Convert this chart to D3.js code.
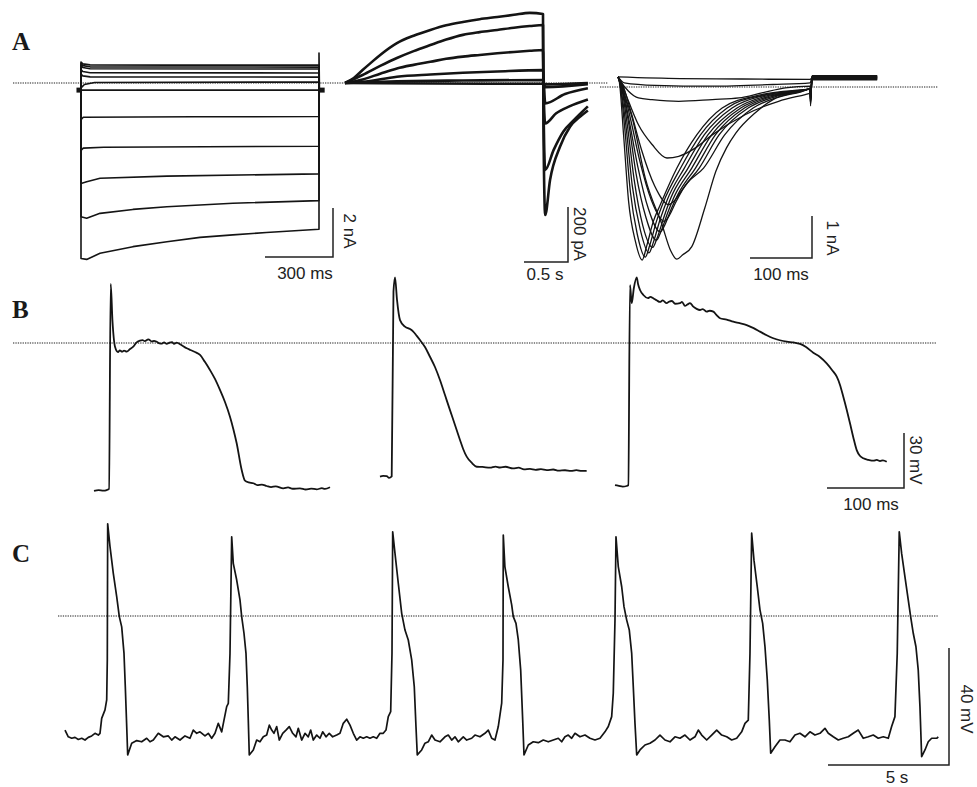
<!DOCTYPE html>
<html><head><meta charset="utf-8">
<script src="https://cdn.jsdelivr.net/npm/d3@7"></script>
<style>body{margin:0;background:#fff}svg{display:block}</style>
</head><body>
<svg id="c" width="977" height="787"></svg>
<script>
// ---------------- DATA ----------------
// Panel A left: K+ currents, [time ms, current nA]
const aLeftTraces = [
  [[-13,-0.29],[0,-0.29],[0,0.86],[8,0.78],[40,0.74],[400,0.73],[1050,0.73],[1051,-0.29],[1065,-0.29]],
  [[-13,-0.29],[0,-0.29],[0,0.8],[8,0.71],[40,0.66],[1050,0.65],[1051,-0.29],[1065,-0.29]],
  [[-13,-0.29],[0,-0.29],[0,0.72],[8,0.63],[40,0.58],[1050,0.57],[1051,-0.29],[1065,-0.29]],
  [[-13,-0.29],[0,-0.29],[0,0.55],[8,0.47],[40,0.42],[1050,0.41],[1051,-0.29],[1065,-0.29]],
  [[-13,-0.29],[0,-0.29],[0,0.36],[8,0.29],[40,0.25],[1050,0.24],[1051,-0.29],[1065,-0.29]],
  [[-13,-0.29],[0,-0.29],[0,-0.2],[15,-0.06],[60,0.02],[1050,0.04],[1051,-0.29],[1065,-0.29]],
  [[-13,-0.29],[1065,-0.29]],
  [[-13,-0.29],[0,-0.29],[0,-1.5],[10,-1.4],[500,-1.38],[1050,-1.37],[1051,-0.29],[1065,-0.29]],
  [[-13,-0.29],[0,-0.29],[0,-2.75],[10,-2.66],[100,-2.62],[1050,-2.58],[1051,-0.29],[1065,-0.29]],
  [[-13,-0.29],[0,-0.29],[0,-4.1],[25,-4.03],[84,-3.89],[379,-3.8],[1050,-3.71],[1051,-0.29],[1065,-0.29]],
  [[-13,-0.29],[0,-0.29],[0,-5.46],[25,-5.52],[84,-5.32],[229,-5.16],[379,-5.05],[670,-4.91],[1050,-4.8],[1051,-0.29],[1065,-0.29]],
  [[-13,-0.29],[0,-0.29],[0,-7.16],[25,-7.2],[84,-6.95],[229,-6.68],[379,-6.48],[525,-6.3],[670,-6.2],[818,-6.1],[1050,-5.97],[1050,1.22],[1052,-0.29],[1065,-0.29]]
];
const aLeftHoldMarks = [[[-20,-0.29],[0,-0.29]],[[1050,-0.29],[1075,-0.29]]];

// Panel A middle: slow outward currents, [time s, current pA]
const aMidTraces = [
  [[0,0],[0.1,18],[0.2,47],[0.3,75],[0.4,102],[0.59,145],[0.78,172],[0.97,193],[1.15,210],[1.34,222],[1.53,232],[1.73,240],[1.92,248],[2.1,255],[2.25,251],[2.255,-150],[2.275,-480],[2.33,-353],[2.443,-232],[2.557,-159],[2.67,-123],[2.76,-100]],
  [[0,0],[0.2,29],[0.4,62],[0.59,91],[0.78,116],[0.97,138],[1.15,158],[1.34,175],[1.53,185],[1.73,193],[1.92,201],[2.1,207],[2.25,211],[2.255,-50],[2.275,-316],[2.37,-244],[2.48,-177],[2.6,-135],[2.76,-85]],
  [[0,0],[0.2,13],[0.4,34],[0.59,53],[0.78,66],[0.97,77],[1.15,88],[1.34,96],[1.53,102],[1.73,108],[1.92,113],[2.1,117],[2.25,120],[2.255,0],[2.275,-147],[2.4,-110],[2.55,-85],[2.76,-60]],
  [[0,0],[0.2,4],[0.59,23],[0.97,31],[1.34,37],[1.73,42],[2.25,47],[2.26,0],[2.275,-74],[2.5,-40],[2.76,-19]],
  [[0,0],[0.59,6],[1.34,9],[2.25,11],[2.275,-15],[2.76,-4]],
  [[0,0],[1.0,-2],[2.25,-3],[2.275,-5],[2.76,0]]
];

// Panel A right: inward currents, [time ms, current nA]
const aRightTraces = [
  [[0,0.24],[2,0.14],[9,-1.14],[17,-2.71],[28,-3.67],[39,-4.12],[46,-3.8],[57,-3.2],[68,-2.81],[95,-1.93],[127,-1.14],[168,-0.5],[229,-0.19],[294,-0.07],[310,-0.05],[310.5,-0.45],[313,0.26],[418,0.26]],
  [[0,0.24],[3,0.1],[11,-1.0],[20,-2.5],[31,-3.5],[44,-4.05],[51,-3.78],[62,-3.2],[73,-2.75],[101,-1.93],[133,-1.14],[176,-0.5],[232,-0.2],[294,-0.08],[310,-0.05],[310.5,-0.4],[313,0.22],[418,0.22]],
  [[0,0.24],[3,0.1],[13,-0.95],[23,-2.35],[36,-3.4],[50,-3.95],[57,-3.7],[68,-3.15],[79,-2.7],[107,-1.93],[139,-1.14],[184,-0.5],[236,-0.2],[294,-0.08],[310,-0.05],[310.5,-0.38],[313,0.18],[418,0.18]],
  [[0,0.24],[4,0.1],[15,-0.9],[26,-2.2],[40,-3.3],[56,-3.82],[63,-3.6],[74,-3.1],[85,-2.65],[113,-1.93],[145,-1.14],[192,-0.5],[240,-0.21],[294,-0.09],[310,-0.05],[310.5,-0.35],[313,0.25],[418,0.25]],
  [[0,0.24],[4,0.1],[17,-0.85],[29,-2.05],[45,-3.1],[62,-3.65],[69,-3.45],[80,-3.0],[91,-2.6],[119,-1.93],[151,-1.14],[198,-0.5],[244,-0.22],[294,-0.09],[310,-0.05],[310.5,-0.3],[313,0.2],[418,0.2]],
  [[0,0.24],[5,0.1],[18,-0.8],[32,-1.9],[49,-2.9],[68,-3.45],[75,-3.3],[86,-2.9],[97,-2.55],[125,-1.93],[157,-1.14],[204,-0.5],[248,-0.23],[294,-0.1],[310,-0.05],[310.5,-0.3],[313,0.27],[418,0.27]],
  [[0,0.24],[5,0.1],[20,-0.75],[35,-1.75],[54,-2.7],[75,-3.2],[82,-3.08],[93,-2.75],[104,-2.45],[131,-1.93],[163,-1.14],[210,-0.5],[252,-0.24],[294,-0.1],[310,-0.05],[310.5,-0.25],[313,0.19],[418,0.19]],
  [[0,0.24],[6,0.1],[22,-0.65],[38,-1.5],[59,-2.35],[82,-2.8],[90,-2.72],[101,-2.5],[112,-2.28],[138,-1.93],[172,-1.14],[218,-0.5],[256,-0.25],[294,-0.11],[310,-0.05],[310.5,-0.25],[313,0.23],[418,0.23]],
  [[0,0.24],[6,-0.02],[23,-0.74],[44,-2.17],[71,-3.28],[85,-3.9],[95,-4.1],[104,-4.0],[119,-3.8],[140,-2.88],[158,-2.0],[175,-1.45],[190,-1.1],[221,-0.62],[250,-0.3],[294,-0.12],[310,-0.05],[310.5,-0.2],[313,0.25],[418,0.25]],
  [[0,0.24],[4,0.14],[17,-0.34],[33,-0.9],[55,-1.37],[79,-1.69],[98,-1.65],[125,-1.45],[152,-1.14],[205,-0.66],[259,-0.34],[302,-0.18],[310,-0.15],[310.5,-0.3],[313,0.21],[418,0.21]],
  [[0,0.24],[4,0.14],[17,-0.1],[33,-0.26],[55,-0.3],[98,-0.34],[152,-0.3],[195,-0.26],[232,-0.14],[270,-0.02],[310,0.02],[310.5,-0.1],[313,0.17],[418,0.17]],
  [[0,0.24],[10,0.1],[60,0.04],[150,0.02],[250,0.06],[310,0.1],[313,0.24],[418,0.24]],
  [[0,0.24],[100,0.2],[200,0.19],[310,0.18],[313,0.22],[418,0.22]]
];

// Panel B: evoked action potentials, [time ms, mV]
const bSweep1 = [[0,-80.6],[6,-80.2],[12,-80.5],[16.5,-80.2],[19.5,-79.6],[21.7,32.2],[24,12],[27.3,-2.0],[31.2,-4.9],[33.5,-4.0],[36.4,-4.7],[39,-4.2],[42.5,-4.7],[46.8,-3.3],[51,-2.0],[55,0.2],[59.7,1.3],[63,1.6],[66,1.0],[70.5,2.0],[75.3,0.8],[78,1.2],[81.4,0.7],[85,-0.2],[88.3,-0.3],[91,0.3],[94.4,-0.5],[98,0.2],[101.3,0.5],[104,-0.5],[107.4,0.2],[113,-1.0],[120.4,-2.9],[125,-3.8],[131.2,-4.9],[137.7,-6.5],[144.2,-10.4],[150.6,-14.7],[157.1,-19.6],[163.6,-25.6],[170.1,-32.2],[176.6,-40.2],[181,-47],[185.3,-54.7],[191.8,-69.3],[196.1,-75.1],[201,-76.0],[206.9,-76.5],[212,-77.5],[218,-77.2],[224.3,-78.0],[230,-78.6],[236,-78.2],[245.8,-79.3],[252,-78.8],[258,-79.5],[267.5,-79.3],[275,-79.9],[282,-79.4],[289.2,-79.8],[296,-79.2],[300,-79.6],[306.5,-78.7]];
const bSweep2 = [[0,-72.9],[4,-72.5],[8.7,-72.6],[11.7,-73.6],[15.2,-72.8],[17.5,28],[19.5,35.8],[22.1,23.5],[26,12.5],[32.5,8.9],[39,7.6],[43.2,6.2],[47.5,4.0],[51.9,1.6],[58.4,-2.2],[64.9,-7.5],[71.4,-13.1],[77.9,-20.2],[84.4,-28.4],[90.9,-36.6],[97.4,-44.7],[103.9,-52.9],[108,-57.8],[112.6,-62.0],[119.5,-65.5],[125.6,-67.5],[133,-67.6],[142.9,-68.0],[150,-67.4],[155.8,-67.9],[163,-67.5],[172.7,-68.4],[180,-68.0],[187,-68.9],[194.8,-68.7],[202,-69.2],[209,-68.8],[216.5,-69.3],[225,-69.0],[232,-69.6],[240.3,-69.4],[248,-69.8],[255,-69.3],[262,-69.8],[268.4,-69.7]];
const bSweep3 = [[0,-77.5],[5,-77.9],[10,-78.3],[15.2,-78.0],[17.3,-77.5],[19.5,31.6],[21.7,21.7],[24.5,30],[28.2,35.8],[30,32],[32.5,28.9],[36.8,26.2],[42.9,24.5],[46,25.2],[49.7,24.4],[54,23.3],[58.4,22.4],[62,23.2],[67.1,21.7],[70,22.5],[74,22.9],[78,21.4],[84.4,21.7],[87,22.4],[90.9,20.2],[94,21.0],[97.4,21.8],[101.7,19.8],[106,18.6],[110.4,18.0],[114,18.5],[119.1,17.1],[123,17.6],[127.7,17.1],[132,15.2],[136.4,13.5],[145,12.8],[153.6,11.6],[162,10.8],[171,9.8],[180,8.1],[188.3,6.2],[197,4.2],[205.6,2.6],[214,1.5],[223,0.7],[232,0.3],[240.3,-0.5],[248.1,-2.2],[257.5,-5.3],[266.2,-7.6],[274.9,-11.1],[281.8,-14.7],[288,-18.4],[292,-22.6],[296.5,-29.3],[301,-36.5],[305.2,-43.8],[309.5,-51.5],[313.9,-58.4],[318,-61.5],[322.5,-62.9],[329,-63.7],[335.5,-64.2],[340,-63.8],[344.2,-64.4],[348,-64.0],[352.9,-64.8]];

// Panel C: spontaneous action potentials, [time s, mV]
const cTrace = [
[0,-39.0],[0.136,-41.3],[0.277,-41.8],[0.413,-41.5],[0.55,-42.2],[0.69,-41.8],[0.826,-42.4],[0.963,-41.5],[1.103,-41.0],[1.24,-40.1],[1.376,-40.7],[1.446,-40.1],[1.516,-35.0],[1.653,-32.1],[1.723,-28.7],[1.748,-15.0],[1.764,31.5],
[1.86,23.7],[1.996,14.6],[2.136,6.6],[2.244,-0.2],[2.343,-3.7],[2.438,-12.8],[2.492,-24.2],[2.55,-37.8],[2.591,-47.5],
[2.756,-43.5],[2.963,-42.6],[3.169,-43.0],[3.376,-41.8],[3.512,-43.0],[3.649,-42.4],[3.855,-40.1],[4.062,-41.3],[4.268,-41.0],[4.409,-42.4],[4.545,-41.3],[4.752,-42.4],[4.958,-41.0],[5.165,-41.8],[5.301,-39.0],[5.442,-40.1],[5.578,-39.6],[5.785,-41.0],[5.921,-40.1],[6.062,-41.8],[6.198,-40.1],[6.334,-36.7],[6.475,-39.6],[6.57,-35.6],[6.681,-31.0],[6.748,-29.9],[6.818,-12.8],[6.888,27.1],
[6.954,18.0],[7.095,12.3],[7.231,5.5],[7.301,-0.2],[7.396,-5.9],[7.479,-12.8],[7.533,-24.2],[7.574,-35.6],[7.615,-47.5],
[7.781,-45.8],[7.921,-42.4],[8.057,-43.0],[8.194,-41.3],[8.334,-40.7],[8.442,-37.3],[8.541,-39.0],[8.636,-40.1],[8.748,-37.8],[8.855,-42.4],[8.996,-40.1],[9.132,-39.0],[9.268,-37.8],[9.409,-40.1],[9.545,-41.3],[9.64,-38.4],[9.781,-42.4],[9.917,-40.1],[10.053,-41.3],[10.152,-39.0],[10.26,-42.4],[10.401,-40.7],[10.537,-41.8],[10.648,-39.6],[10.785,-41.3],[10.921,-40.1],[11.061,-41.3],[11.227,-40.7],[11.363,-40.1],[11.499,-36.7],[11.64,-35.3],[11.777,-37.3],[11.913,-40.1],[12.053,-42.4],[12.189,-41.3],[12.326,-41.8],[12.466,-41.3],[12.603,-41.8],[12.739,-41.3],[12.88,-41.8],[13.016,-40.1],[13.152,-40.1],[13.264,-39.0],[13.359,-34.4],[13.458,-32.7],[13.512,-12.8],[13.541,28.8],
[13.636,21.4],[13.772,11.2],[13.913,0.9],[14.049,-4.8],[14.185,-8.2],[14.326,-15.0],[14.433,-24.2],[14.503,-37.8],[14.557,-47.5],
[14.739,-45.8],[14.875,-43.5],[15.011,-43.0],[15.152,-40.7],[15.289,-42.4],[15.495,-43.0],[15.702,-41.3],[15.838,-40.7],[15.979,-42.4],[16.115,-41.3],[16.251,-43.0],[16.458,-41.3],[16.599,-42.4],[16.805,-41.8],[16.941,-40.7],[17.148,-41.3],[17.354,-40.1],[17.491,-39.0],[17.632,-41.8],[17.768,-42.4],[17.904,-37.8],[18.045,-29.8],[18.099,-15.0],[18.111,27.7],
[18.177,16.9],[18.317,10.0],[18.458,3.8],[18.524,-0.2],[18.636,-2.5],[18.731,-8.2],[18.83,-18.5],[18.913,-35.6],[18.967,-47.5],
[19.144,-44.1],[19.35,-43.0],[19.557,-43.3],[19.764,-42.4],[19.97,-43.0],[20.177,-42.4],[20.384,-41.8],[20.524,-43.0],[20.66,-41.3],[20.797,-40.7],[20.937,-41.8],[21.074,-40.1],[21.28,-41.3],[21.487,-40.7],[21.694,-41.8],[21.9,-42.4],[22.107,-41.8],[22.313,-39.6],[22.45,-37.8],[22.59,-34.4],[22.656,-26.4],[22.727,-1.4],[22.768,27.1],
[22.863,16.9],[23.004,10.0],[23.099,3.2],[23.211,-1.4],[23.318,-4.8],[23.417,-12.8],[23.483,-24.2],[23.553,-36.7],[23.624,-47.5],
[23.76,-45.8],[23.966,-44.1],[24.173,-43.5],[24.38,-42.4],[24.586,-40.7],[24.793,-42.4],[25.0,-43.0],[25.206,-41.3],[25.413,-41.8],[25.619,-40.7],[25.826,-42.4],[26.033,-41.3],[26.169,-39.0],[26.31,-40.7],[26.516,-42.4],[26.723,-40.7],[26.929,-39.0],[27.136,-40.7],[27.343,-41.3],[27.549,-42.4],[27.756,-41.8],[27.962,-39.6],[28.099,-36.7],[28.235,-35.6],[28.305,-12.8],[28.375,28.3],
[28.47,19.1],[28.606,10.0],[28.718,2.1],[28.829,-2.5],[28.925,-10.5],[29.02,-21.9],[29.103,-35.6],[29.161,-46.9],
[29.337,-44.7],[29.544,-42.4],[29.75,-42.4],[29.957,-43.0],[30.164,-40.7],[30.37,-40.1],[30.577,-41.3],[30.783,-39.6],[30.99,-40.7],[31.197,-40.1],[31.403,-38.4],[31.541,-40.1],[31.747,-41.3],[31.954,-42.4],[32.16,-41.8],[32.367,-41.3],[32.573,-40.1],[32.78,-39.0],[32.986,-41.8],[33.193,-41.3],[33.4,-40.7],[33.606,-41.8],[33.813,-41.3],[34.02,-41.8],[34.158,-37.8],[34.295,-34.4],[34.39,-12.8],[34.473,28.8],
[34.572,21.4],[34.709,13.4],[34.845,5.5],[34.944,-0.2],[35.052,-5.9],[35.163,-10.5],[35.258,-18.5],[35.329,-31.0],[35.399,-48.1],
[35.536,-45.8],[35.672,-43.0],[35.813,-41.8],[36.02,-41.8],[36.086,-41.3]
];

// Scale bar values and labels
const panelLetters = ["A","B","C"];
const scaleBarLabels = ["300 ms","2 nA","0.5 s","200 pA","100 ms","1 nA","100 ms","30 mV","5 s","40 mV"];

// ---------------- LAYOUT / SCALES ----------------
const svg = d3.select("#c");
const ink = "#141414";
const sansFont = "'Liberation Sans', Arial, Helvetica, sans-serif";
const serifFont = "'Liberation Serif', 'Times New Roman', serif";

const xAL = d3.scaleLinear().domain([0,300]).range([81,149]);
const yAL = d3.scaleLinear().domain([0,-2]).range([83,132]);
const xAM = d3.scaleLinear().domain([0,0.5]).range([345,389]);
const yAM = d3.scaleLinear().domain([0,-200]).range([83,138]);
const xAR = d3.scaleLinear().domain([0,100]).range([618,680]);
const yAR = d3.scaleLinear().domain([0,-1]).range([87,129]);
const xB  = d3.scaleLinear().domain([0,100]).range([0,77]);
const yB  = d3.scaleLinear().domain([0,-30]).range([343,398]);
const xC  = d3.scaleLinear().domain([0,5]).range([65,186]);
const yC  = d3.scaleLinear().domain([0,-40]).range([616,733]);
const bSweepLeft = [94,380,615];

function drawTraces(g, data, x, y, curve, w){
  const line = d3.line().x(d=>x(d[0])).y(d=>y(d[1])).curve(curve);
  g.selectAll(null).data(data).join("path")
    .attr("d", line).attr("fill","none").attr("stroke",ink)
    .attr("stroke-width", w).attr("stroke-linejoin","round").attr("stroke-linecap","butt");
}
function dotted(x1,x2,y){
  svg.append("line").attr("x1",x1).attr("x2",x2).attr("y1",y).attr("y2",y)
    .attr("stroke","#6a6a6a").attr("stroke-width",1.3).attr("stroke-dasharray","1.3 1.1");
}
function scaleBar(cx, cy, hLen, vLen, hLabel, vLabel, hLabelPos, vLabelPos){
  svg.append("path").attr("d",`M${cx-hLen},${cy}H${cx}V${cy-vLen}`)
    .attr("fill","none").attr("stroke","#222").attr("stroke-width",1.5);
  svg.append("text").attr("x",hLabelPos[0]).attr("y",hLabelPos[1]).attr("text-anchor","middle")
    .attr("font-family",sansFont).attr("font-size",17).attr("fill","#222").text(hLabel);
  svg.append("text").attr("transform",`translate(${vLabelPos[0]},${vLabelPos[1]}) rotate(90)`)
    .attr("text-anchor","middle").attr("dy","0.35em")
    .attr("font-family",sansFont).attr("font-size",17).attr("fill","#222").text(vLabel);
}

// zero (dotted) lines
dotted(13, 342, yAL(0));
dotted(342, 608, yAM(0));
dotted(600, 938, yAR(0));
dotted(13, 937, yB(0));
dotted(58, 938, yC(0));

// Panel A
const gA = svg.append("g");
drawTraces(gA.append("g"), aLeftTraces, xAL, yAL, d3.curveLinear, 1.6);
drawTraces(gA.append("g"), aLeftHoldMarks, xAL, yAL, d3.curveLinear, 5);
drawTraces(gA.append("g"), aMidTraces, xAM, yAM, d3.curveMonotoneX, 2.6);
drawTraces(gA.append("g"), aRightTraces, xAR, yAR, d3.curveMonotoneX, 1.3);

// Panel B
[bSweep1,bSweep2,bSweep3].forEach((s,i)=>{
  const g = svg.append("g").attr("transform",`translate(${bSweepLeft[i]},0)`);
  drawTraces(g, [s], xB, yB, d3.curveMonotoneX, 1.8);
});

// Panel C
drawTraces(svg.append("g"), [cTrace], xC, yC, d3.curveLinear, 1.7);

// scale bars (lengths from the scales)
scaleBar(333, 257, xAL(300)-xAL(0), yAL(-2)-yAL(0), scaleBarLabels[0], scaleBarLabels[1], [305,279], [350,231]);
scaleBar(568, 262, xAM(0.5)-xAM(0), yAM(-200)-yAM(0), scaleBarLabels[2], scaleBarLabels[3], [545,280], [580,234]);
scaleBar(812, 258, xAR(100)-xAR(0), yAR(-1)-yAR(0), scaleBarLabels[4], scaleBarLabels[5], [781,280], [833,238]);
scaleBar(904, 488, xB(100)-xB(0), yB(-30)-yB(0), scaleBarLabels[6], scaleBarLabels[7], [871,510], [916,460]);
scaleBar(949, 765, xC(5)-xC(0), yC(-40)-yC(0), scaleBarLabels[8], scaleBarLabels[9], [897,783], [967,709]);

// panel letters
const letterPos = [[12,50],[12,318],[12,562]];
svg.selectAll(null).data(panelLetters).join("text")
  .attr("x",(d,i)=>letterPos[i][0]).attr("y",(d,i)=>letterPos[i][1])
  .attr("font-family",serifFont).attr("font-weight","bold").attr("font-size",25)
  .attr("fill","#1a1a1a").text(d=>d);
</script>
</body></html>
